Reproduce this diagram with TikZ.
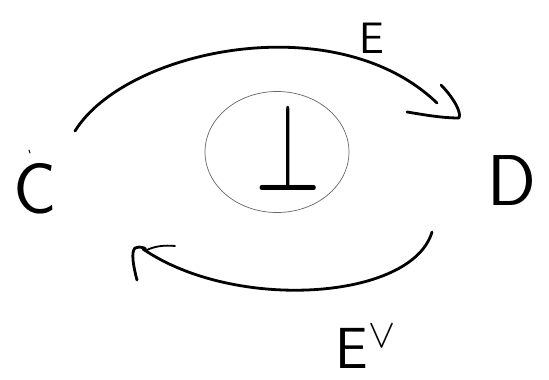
\RequirePackage{fix-cm}
\documentclass[tikz,border=0pt]{standalone}
\usetikzlibrary{shapes.geometric}
\begin{document}
\begin{tikzpicture}[x=1pt,y=-1pt,
  stroke/.style={line width=2.8pt,line cap=round,line join=round},
  letter/.style={font=\sffamily\fontsize{72}{72}\selectfont, inner sep=0pt}]
\useasboundingbox (0,0) rectangle (549,380);
\node[letter] (C) at (35,189) {C};
\node[letter] (D) at (512,181) {D};
\node[draw=black!60, line width=0.7pt, ellipse, minimum width=144pt, minimum height=121pt] (circ) at (277,152) {};
\node[inner sep=0pt, font=\fontsize{84}{84}\selectfont] (bot) at (288,147) {\scalebox{1}[1.5]{$\bot$}};
\node[inner sep=0pt, font=\sffamily\fontsize{44}{44}\selectfont] (E) at (372,38) {E};
\node[inner sep=0pt, font=\sffamily\fontsize{58}{58}\selectfont] (Ev) at (366,347) {E$^{\vee}$};
% top arrow C -> D
\coordinate (t0) at (75,131);
\coordinate (t1) at (437,103);
\coordinate (ttip) at (459,118);
\draw[stroke] (t0) .. controls (125,50) and (335,5) .. (t1);
\draw[stroke] (441,85) .. controls (452,96) and (462,112) .. (ttip) .. controls (440,118) and (420,114) .. (407,112);
% bottom arrow D -> C
\coordinate (b0) at (432,232);
\coordinate (b1) at (143,249);
\coordinate (btip) at (135,248);
\draw[stroke] (b0) .. controls (412,300) and (235,312) .. (b1);
\draw[stroke] (137,280) .. controls (133,265) and (131,252) .. (btip) .. controls (140,245) and (150,250) .. (b1);
\draw[stroke, line width=1.8pt] (147,250) .. controls (155,246) and (165,245) .. (175,246);
% small tick near C
\draw[line width=1pt, line cap=round] (29,150) -- (30,153);
\end{tikzpicture}
\end{document}
